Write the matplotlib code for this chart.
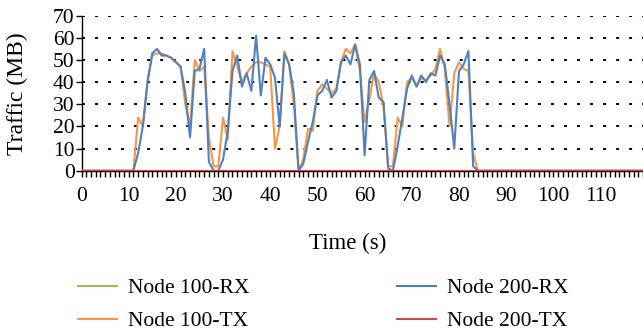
import matplotlib
matplotlib.use("Agg")
import matplotlib.pyplot as plt
import numpy as np

# time axis in seconds
time_s = list(range(120))

# Node 200-RX (blue)
node200_rx = [0] * 12 + [
    8, 20, 40, 53, 55, 52, 52, 51, 49, 47,          # 12-21
    35, 15, 45, 46, 55, 4, 0, 0, 5, 18,             # 22-31
    45, 52, 38, 44, 36, 61, 34, 51, 48, 42,         # 32-41
    20, 53, 48, 35, 0, 3, 13, 22, 34, 36,           # 42-51
    41, 33, 36, 49, 52, 48, 57, 48, 7, 41,          # 52-61
    45, 33, 31, 1, 0, 11, 24, 37, 43, 38,           # 62-71
    43, 40, 44, 43, 52, 48, 30, 10, 45, 48,         # 72-81
    54, 2, 0,                                       # 82-84
] + [0] * 35

# Node 100-TX (orange)
node100_tx = [0] * 12 + [
    24, 20, 41, 52, 53, 53, 52, 51, 49, 47,         # 12-21
    30, 20, 50, 45, 47, 15, 2, 2, 24, 14,           # 22-31
    54, 47, 40, 44, 47, 49, 49, 48, 47, 10,         # 32-41
    20, 54, 48, 30, 0, 5, 19, 18, 36, 39,           # 42-51
    37, 35, 37, 49, 55, 53, 57, 45, 22, 32,         # 52-61
    44, 40, 29, 2, 2, 24, 20, 40, 42, 38,           # 62-71
    42, 41, 43, 46, 55, 46, 20, 44, 49, 46,         # 72-81
    45, 8, 0,                                       # 82-84
] + [0] * 35

# the other two series stay at zero
node100_rx = [0] * 120
node200_tx = [0] * 120

series_names = ["Node 100-RX", "Node 100-TX", "Node 200-RX", "Node 200-TX"]
series_colors = ["#9BBB59", "#F79646", "#4F81BD", "#C0504D"]

plt.rcParams['font.family'] = ['Liberation Serif', 'DejaVu Serif']

fig = plt.figure(figsize=(6.43, 3.32), dpi=100)
ax = fig.add_axes([81.5 / 643, 1 - 170.7 / 332, (643 - 81.5) / 643, (170.7 - 15.7) / 332])

for ys, name, col in zip([node100_rx, node100_tx, node200_rx, node200_tx], series_names, series_colors):
    ax.plot(time_s, ys, color=col, lw=1.5, label=name, zorder=3)

ax.set_xlim(0, 119)
ax.set_ylim(0, 70)
ax.set_xticks(np.arange(0, 111, 10))
ax.set_xticks(np.arange(0, 120, 1), minor=True)
ax.set_yticks(np.arange(0, 71, 10))

# dotted horizontal gridlines
for g in range(10, 71, 10):
    ax.axhline(g, color="black", lw=1.4, linestyle=(0, (1.5, 5.2)), zorder=1)

for s in ["top", "right"]:
    ax.spines[s].set_visible(False)
ax.spines["left"].set_color("black")
ax.spines["bottom"].set_color("black")
ax.spines["left"].set_linewidth(1.0)
ax.spines["bottom"].set_linewidth(1.0)

ax.tick_params(axis="x", which="both", direction="out", length=4, width=1, labelsize=15.5, pad=8)
ax.tick_params(axis="y", direction="out", length=4, width=1, labelsize=15.5, pad=1)

ax.set_xlabel("Time (s)", fontsize=16.5)
ax.xaxis.set_label_coords((348 - 81.5) / 561.5, -0.40)
ax.set_ylabel("Traffic (MB)", fontsize=17)
ax.yaxis.set_label_coords(-0.095, 0.5)

fig.legend(loc="upper left", bbox_to_anchor=(78 / 643, 1 - 278 / 332), ncol=2, frameon=False,
           fontsize=15.5, handlelength=1.8, handletextpad=0.5, columnspacing=6.9,
           labelspacing=0.6, borderpad=0, borderaxespad=0)

fig.savefig("out.png", dpi=100)
